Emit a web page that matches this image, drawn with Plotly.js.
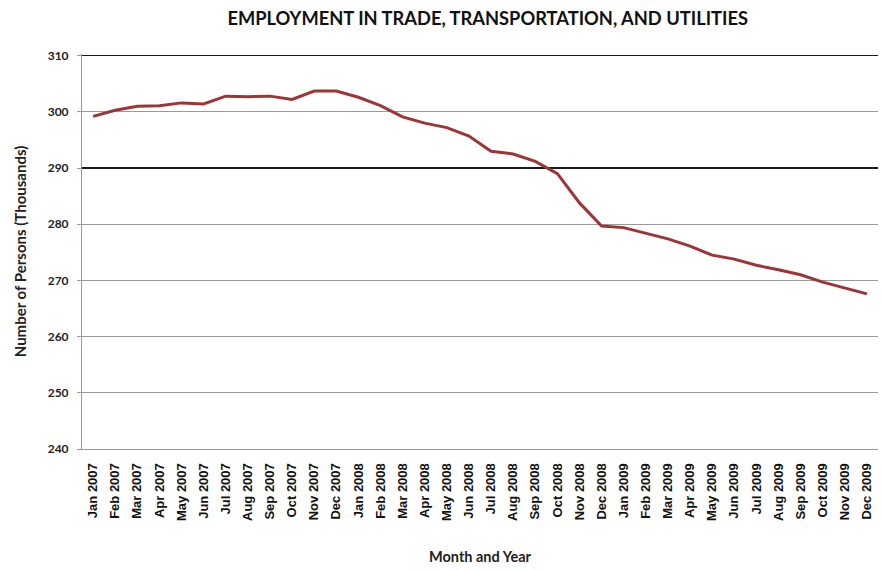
<!DOCTYPE html>
<html>
<head>
<meta charset="utf-8">
<script src="https://cdn.plot.ly/plotly-3.0.1.min.js"></script>
<style>
  html, body { margin: 0; padding: 0; background: #fff; }
  #graphDiv { width: 882px; height: 570px; }
</style>
</head>
<body>
<div id="graphDiv"></div>
<script>
// Monthly employment, trade/transportation/utilities (thousands)
var months = [
  'Jan 2007', 'Feb 2007', 'Mar 2007', 'Apr 2007', 'May 2007', 'Jun 2007',
  'Jul 2007', 'Aug 2007', 'Sep 2007', 'Oct 2007', 'Nov 2007', 'Dec 2007',
  'Jan 2008', 'Feb 2008', 'Mar 2008', 'Apr 2008', 'May 2008', 'Jun 2008',
  'Jul 2008', 'Aug 2008', 'Sep 2008', 'Oct 2008', 'Nov 2008', 'Dec 2008',
  'Jan 2009', 'Feb 2009', 'Mar 2009', 'Apr 2009', 'May 2009', 'Jun 2009',
  'Jul 2009', 'Aug 2009', 'Sep 2009', 'Oct 2009', 'Nov 2009', 'Dec 2009'
];
var persons = [
  299.2, 300.3, 301.0, 301.1, 301.6, 301.4,
  302.8, 302.7, 302.8, 302.2, 303.7, 303.7,
  302.6, 301.1, 299.1, 298.0, 297.2, 295.7,
  293.0, 292.5, 291.2, 289.0, 283.8, 279.7,
  279.4, 278.4, 277.4, 276.1, 274.5, 273.8,
  272.7, 271.9, 271.0, 269.7, 268.7, 267.6
];
var yTicks = [240, 250, 260, 270, 280, 290, 300, 310];
var darkGrid = [290, 310];
// a little headroom so the 310 gridline is not clipped at the edge
var yRange = [240, 310.3];

var labelFont = 'Lato, "Open Sans", sans-serif';

var trace = {
  x: months,
  y: persons,
  type: 'scatter',
  mode: 'lines',
  line: { color: '#9e3535', width: 3 },
  hoverinfo: 'x+y'
};

// invisible trace that carries the overlaid axis with the dark gridlines
var helper = {
  x: months,
  y: persons,
  yaxis: 'y2',
  type: 'scatter',
  mode: 'lines',
  line: { width: 0 },
  hoverinfo: 'skip',
  showlegend: false
};

var layout = {
  width: 882,
  height: 570,
  margin: { l: 82, r: 4, t: 54, b: 121 },
  paper_bgcolor: '#ffffff',
  plot_bgcolor: '#ffffff',
  showlegend: false,
  title: {
    text: 'EMPLOYMENT IN TRADE, TRANSPORTATION, AND UTILITIES',
    font: { family: labelFont, size: 18.3, color: '#111', weight: 'bold' },
    x: 0.553,
    xanchor: 'center',
    y: 0.968,
    yanchor: 'middle'
  },
  xaxis: {
    type: 'category',
    range: [-0.5, months.length - 0.5],
    tickangle: -90,
    tickfont: { family: '"Liberation Sans", Arial, sans-serif', size: 13, color: '#111', weight: 'bold' },
    ticklabelstandoff: 8,
    showgrid: false,
    showline: true,
    linecolor: '#9a9a9a',
    linewidth: 1,
    ticks: '',
    zeroline: false,
    title: {
      text: 'Month and Year',
      font: { family: labelFont, size: 14.5, color: '#222', weight: 'bold' },
      standoff: 31
    }
  },
  yaxis: {
    range: yRange,
    tickvals: yTicks,
    ticktext: yTicks.map(String),
    tickfont: { family: labelFont, size: 12, color: '#222', weight: 'bold' },
    ticks: 'outside',
    ticklen: 4,
    tickcolor: '#9a9a9a',
    ticklabelstandoff: 6,
    showgrid: true,
    gridcolor: '#9a9a9a',
    gridwidth: 1,
    showline: true,
    linecolor: '#9a9a9a',
    linewidth: 1,
    zeroline: false,
    title: {
      text: 'Number of Persons (Thousands)',
      font: { family: labelFont, size: 15, color: '#222', weight: 'bold' },
      standoff: 17
    }
  },
  yaxis2: {
    overlaying: 'y',
    matches: 'y',
    range: yRange,
    tickvals: darkGrid,
    showticklabels: false,
    ticks: '',
    showgrid: true,
    gridcolor: '#1a1a1a',
    gridwidth: 1.3,
    zeroline: false,
    showline: false,
    layer: 'below traces'
  }
};

Plotly.newPlot('graphDiv', [helper, trace], layout, { displayModeBar: false, staticPlot: true });
</script>
</body>
</html>
